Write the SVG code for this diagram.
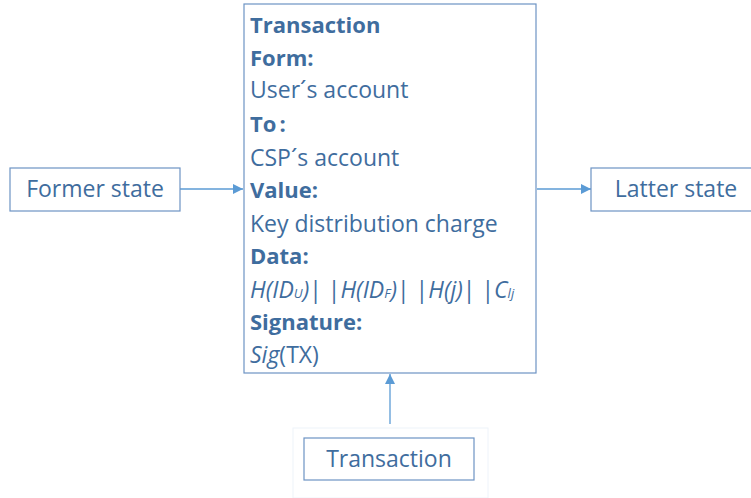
<svg xmlns="http://www.w3.org/2000/svg" width="751" height="498" viewBox="0 0 751 498">
<style>
.box{fill:#fff;stroke:#6d93c4;stroke-width:1.2}
.t{font-family:"Open Sans","Liberation Sans",sans-serif;font-size:23px;fill:#3f6d9e}
.b{font-weight:bold;font-size:22px}
.i{font-style:italic}
.s{font-size:13px}
.c{stroke:#5b9bd5;stroke-width:1.3;fill:none}
</style>
<defs>
<marker id="ah" viewBox="0 0 10 10" refX="10" refY="5" markerWidth="10" markerHeight="10" markerUnits="userSpaceOnUse" orient="auto">
<path d="M0,0 L10,5 L0,10 z" fill="#5b9bd5"/>
</marker>
</defs>
<rect width="751" height="498" fill="#fff"/>
<g id="connectors">
<line class="c" x1="180" y1="189" x2="243" y2="189" marker-end="url(#ah)"/>
<line class="c" x1="537" y1="189" x2="591" y2="189" marker-end="url(#ah)"/>
<line class="c" x1="390" y1="424" x2="390" y2="374" marker-end="url(#ah)"/>
</g>
<g id="main">
<rect class="box" x="244" y="4" width="292" height="369"/>
<text class="t b" x="250" y="33">Transaction</text>
<text class="t b" x="250" y="66">Form:</text>
<text class="t" x="250" y="98">User´s account</text>
<text class="t b" x="250" y="132">To<tspan dx="3">:</tspan></text>
<text class="t" x="250" y="166">CSP´s account</text>
<text class="t b" x="250" y="198">Value:</text>
<text class="t" x="250" y="232">Key distribution charge</text>
<text class="t b" x="250" y="264">Data:</text>
<text class="t" x="250" y="298"><tspan class="i">H(ID</tspan><tspan class="i s">U</tspan><tspan class="i">)</tspan>| |<tspan class="i">H(ID</tspan><tspan class="i s">F</tspan><tspan class="i">)</tspan>| |<tspan class="i">H(j)</tspan>| |<tspan class="i">C</tspan><tspan class="i s">lj</tspan></text>
<text class="t b" x="250" y="330">Signature:</text>
<text class="t" x="250" y="363"><tspan class="i">Sig</tspan>(TX)</text>
</g>
<g id="former">
<rect class="box" x="10" y="168" width="170" height="43"/>
<text class="t" x="95" y="197" text-anchor="middle">Former state</text>
</g>
<g id="latter">
<rect class="box" x="591" y="168" width="170" height="43"/>
<text class="t" x="676" y="197" text-anchor="middle">Latter state</text>
</g>
<g id="tx">
<rect x="293" y="428" width="195" height="70" fill="#fff" stroke="#eef3fa" stroke-width="1"/>
<rect class="box" x="304" y="438" width="170" height="42"/>
<text class="t" x="389" y="467" text-anchor="middle">Transaction</text>
</g>
</svg>
